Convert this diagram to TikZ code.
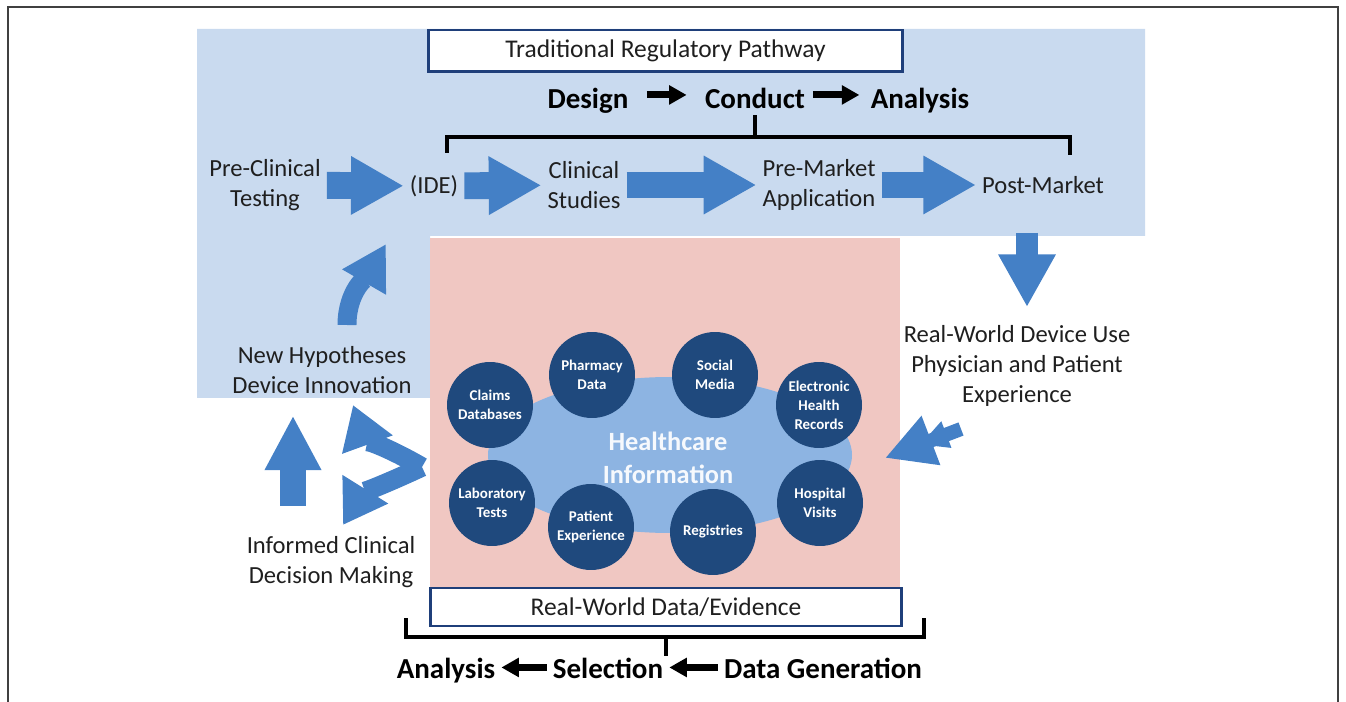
\documentclass[tikz,border=0pt]{standalone}
\usepackage{fontspec}
\setmainfont{Carlito}
\usetikzlibrary{arrows.meta,positioning}

\definecolor{bgblue}{RGB}{201,218,239}
\definecolor{bgpink}{RGB}{240,199,194}
\definecolor{arrblue}{RGB}{68,128,198}
\definecolor{dotblue}{RGB}{31,73,125}
\definecolor{blobblue}{RGB}{141,180,226}
\definecolor{boxblue}{RGB}{31,63,122}

\begin{document}
\begin{tikzpicture}[x=0.02cm,y=-0.02cm,
    lbl/.style={align=center,text=black!88,font=\fontsize{14}{17}\selectfont},
    hdr/.style={anchor=base,text=black,font=\fontsize{16.5}{19}\selectfont\bfseries},
    titlebox/.style={draw=boxblue,line width=1.7pt,fill=white,inner sep=0pt,text=black!88,font=\fontsize{14.5}{17}\selectfont},
    src/.style={circle,fill=dotblue,minimum size=1.72cm,inner sep=0pt,align=center,text=white,font=\fontsize{8.5}{10.8}\selectfont\bfseries},
    flow/.style={draw=arrblue,line width=15.3pt,-{Triangle[length=0pt 1.96,width=0pt 2.04]}},
    blk/.style={draw=black,line width=4pt,-{Triangle[length=10pt,width=10.5pt]}},
    brace/.style={draw=black,line width=1.8pt}]
  \useasboundingbox (0,0) rectangle (1346,702);
  \draw[line width=0.9pt,black!75] (8,702) -- (8,7) -- (1338,7) -- (1338,702);

  \fill[bgblue] (197,29) -- (1145,29) -- (1145,236) -- (430,236) -- (430,398) -- (197,398) -- cycle;
  \fill[bgpink] (430,238) rectangle (900,587);
  \fill[blobblue] (670,455) ellipse [x radius=182,y radius=78];

  \node[titlebox,minimum width=9.5cm,minimum height=0.84cm] (trad) at (665.5,51) {Traditional Regulatory Pathway};
  \node[hdr] (design) at (588,109) {Design};
  \node[hdr] (conduct) at (755,109) {Conduct};
  \node[hdr] (anltop) at (920,109) {Analysis};
  \draw[blk,shorten <=7pt,shorten >=7pt] ([yshift=8pt]design.base east) -- ([yshift=8pt]conduct.base west);
  \draw[blk,shorten <=1pt,shorten >=3pt] ([yshift=8pt]conduct.base east) -- ([yshift=8pt]anltop.base west);
  \draw[brace] (447,153) |- (1070,137) -- (1070,155);
  \draw[brace] (conduct.south) -- (conduct.south |- 0,137);

  \node[lbl] (pre) at (265,185) {Pre-Clinical\\Testing};
  \node[lbl] (ide) at (434,186) {(IDE)};
  \node[lbl] (clin) at (584,185) {Clinical\\Studies};
  \node[lbl] (prem) at (819,185) {Pre-Market\\Application};
  \node[lbl] (post) at (1043,185) {Post-Market};
  \draw[flow] (pre) -- (ide);
  \draw[flow] (ide) -- (clin);
  \draw[flow] (clin) -- (prem);
  \draw[flow] (prem) -- (post);

  \node[lbl] (rwuse) at (1017,366) {Real-World Device Use\\Physician and Patient\\Experience};
  \draw[draw=arrblue,line width=12pt,-{Triangle[length=30pt,width=30.6pt]},shorten >=7pt] (1027,233) -- (rwuse.north -| 1027,0);

  \node[lbl] (newhyp) at (322,370) {New Hypotheses\\Device Innovation};
  \node[lbl] (icdm) at (331,562) {Informed Clinical\\Decision Making};
  \coordinate (hypfoot) at (347,325);
  \coordinate (idefoot) at (386,244);
  \draw[draw=arrblue,line width=10.8pt,-{Triangle[length=25pt,width=27pt]}] (hypfoot) to[out=90,in=240] (idefoot);
  \draw[flow,-{Triangle[length=31pt,width=30pt]},shorten <=14pt,shorten >=9pt] (icdm.north -| 293,0) -- (newhyp.south -| 293,0);
  \coordinate (split) at (422,467);
  \coordinate (uptip) at (353,405);
  \coordinate (downtip) at (343,525);
  \draw[draw=arrblue,line width=11pt,-{Triangle[length=24pt,width=29pt]}] (split) to[out=150,in=-70] (uptip);
  \draw[draw=arrblue,line width=11pt,-{Triangle[length=24pt,width=29pt]}] (split) to[out=205,in=58] (downtip);

  \node[src] (claims) at (490,405) {Claims\\Databases};
  \node[src] (pharm) at (592,375) {Pharmacy\\Data};
  \node[src] (social) at (715,375) {Social\\Media};
  \node[src] (ehr) at (819,405) {Electronic\\Health\\Records};
  \node[src] (lab) at (492,503) {Laboratory\\Tests};
  \node[src] (patexp) at (591,527) {Patient\\Experience};
  \node[src] (reg) at (713,532) {Registries};
  \node[src] (hosp) at (820,503) {Hospital\\Visits};
  \node[align=center,text=white!92!blobblue,font=\fontsize{15}{18.7}\selectfont\bfseries] (hub) at (668,458) {Healthcare\\Information};

  \coordinate (usetail) at (961,429);
  \coordinate (hubin) at (885,458);
  \draw[draw=arrblue,line width=8pt,-{Triangle[length=16pt,width=15pt,sep=-6.6pt]Triangle[length=28pt,width=28pt]}] (usetail) -- (hubin);

  \node[titlebox,minimum width=9.44cm,minimum height=0.76cm] (rwd) at (666,607) {Real-World Data/Evidence};
  \draw[brace] (406,618) |- (924,637) -- (924,618);
  \draw[brace] (666,637) -- (666,656);
  \node[hdr] (anlbot) at (446,678) {Analysis};
  \node[hdr] (select) at (608,678) {Selection};
  \node[hdr] (datagen) at (823,678) {Data Generation};
  \draw[blk] ([yshift=6pt]select.base west) -- ([yshift=6pt]anlbot.base east);
  \draw[blk] ([yshift=6pt]datagen.base west) -- ([yshift=6pt]select.base east);
\end{tikzpicture}
\end{document}
